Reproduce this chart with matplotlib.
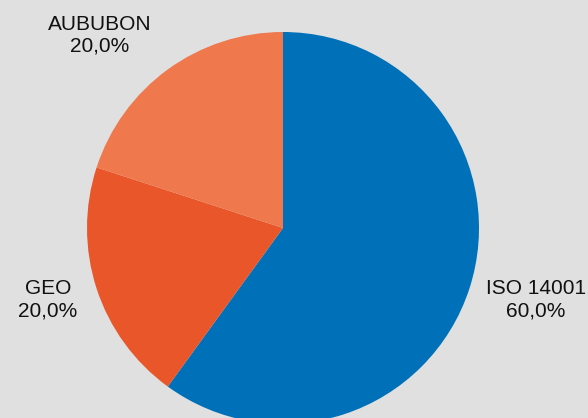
import matplotlib
matplotlib.use("Agg")
import matplotlib.pyplot as plt

categories = ["ISO 14001", "GEO", "AUBUBON"]
values = [60.0, 20.0, 20.0]
colors = ["#0070b8", "#e9562a", "#ef784d"]
label_texts = ["ISO 14001\n60,0%", "GEO\n20,0%", "AUBUBON\n20,0%"]

W, H = 588, 418
fig = plt.figure(figsize=(W / 100, H / 100), dpi=100, facecolor="#e0e0e0")
ax = fig.add_axes([0, 0, 1, 1])
ax.set_facecolor("#e0e0e0")

cx, cy, r = 283, H - 228, 196
ax.pie(values, colors=colors, startangle=90, counterclock=False,
       center=(cx, cy), radius=r, frame=True,
       wedgeprops=dict(linewidth=0))
ax.set_xlim(0, W)
ax.set_ylim(0, H)
ax.set_aspect("equal")
ax.axis("off")

label_pos = [(536, H - 300), (48, H - 300), (100, H - 35)]
for txt, (x, y) in zip(label_texts, label_pos):
    ax.text(x, y, txt, ha="center", va="center", fontsize=15,
            family="Liberation Sans", color="#111111", linespacing=1.2)

fig.savefig("out.png", dpi=100, facecolor=fig.get_facecolor())
